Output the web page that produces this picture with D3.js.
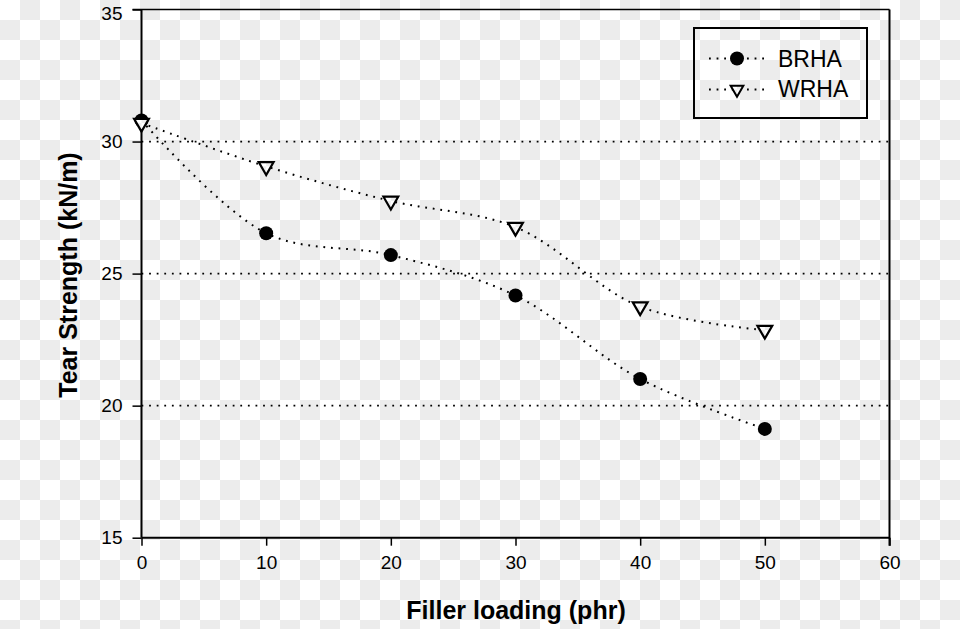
<!DOCTYPE html>
<html>
<head>
<meta charset="utf-8">
<script src="https://cdn.jsdelivr.net/npm/d3@7"></script>
<style>
  html, body { margin: 0; padding: 0; background: #fff; }
  svg { display: block; }
  text { font-family: "Liberation Sans", Arial, Helvetica, sans-serif; fill: #000; }
</style>
</head>
<body>
<svg id="chart" width="960" height="629"></svg>
<script>
// ---- data ----
const loading = [0, 10, 20, 30, 40, 50];
const brha = [30.8, 26.53, 25.70, 24.17, 21.01, 19.12];
const wrha = [30.7, 29.06, 27.75, 26.76, 23.75, 22.86];
const seriesNames = ["BRHA", "WRHA"];
const xTicks = [0, 10, 20, 30, 40, 50, 60];
const yTicks = [15, 20, 25, 30, 35];
const gridValues = [20, 25, 30];

const svg = d3.select("#chart");
const W = 960, H = 629;

// checkerboard background (transparent-image look)
const defs = svg.append("defs");
const pat = defs.append("pattern").attr("id", "checker")
  .attr("patternUnits", "userSpaceOnUse").attr("width", 40).attr("height", 40);
pat.append("rect").attr("width", 40).attr("height", 40).attr("fill", "#ffffff");
pat.append("rect").attr("x", 20).attr("y", 0).attr("width", 20).attr("height", 20).attr("fill", "#ececec");
pat.append("rect").attr("x", 0).attr("y", 20).attr("width", 20).attr("height", 20).attr("fill", "#ececec");
svg.append("rect").attr("width", W).attr("height", H).attr("fill", "url(#checker)");

const x = d3.scaleLinear().domain([0, 60]).range([141.5, 889.5]);
const y = d3.scaleLinear().domain([15, 35]).range([537.7, 9.5]);

// gridlines
svg.append("g").selectAll("line").data(gridValues).join("line")
  .attr("x1", x(0)).attr("x2", x(60))
  .attr("y1", d => y(d)).attr("y2", d => y(d))
  .attr("stroke", "#000").attr("stroke-width", 1.8)
  .attr("stroke-dasharray", "1.8 5.8");

// frame: top and right
svg.append("line").attr("x1", x(0) - 9).attr("x2", x(60)).attr("y1", y(35)).attr("y2", y(35))
  .attr("stroke", "#000").attr("stroke-width", 1.3);
svg.append("line").attr("x1", x(60)).attr("x2", x(60)).attr("y1", y(35)).attr("y2", y(15) + 8)
  .attr("stroke", "#000").attr("stroke-width", 2);

// axes
const xAxis = d3.axisBottom(x).tickValues(xTicks).tickSize(8).tickPadding(10).tickFormat(d3.format("d"));
const yAxis = d3.axisLeft(y).tickValues(yTicks).tickSize(9).tickPadding(10).tickFormat(d3.format("d"));

const gx = svg.append("g").attr("transform", `translate(0,${y(15)})`).call(xAxis);
const gy = svg.append("g").attr("transform", `translate(${x(0)},0)`).call(yAxis);
[gx, gy].forEach(g => {
  g.select(".domain").attr("stroke", "#000").attr("stroke-width", 2);
  g.selectAll(".tick line").attr("stroke", "#000").attr("stroke-width", 1.5);
  g.selectAll(".tick text").attr("font-size", 19).attr("fill", "#000")
    .attr("font-family", "'Liberation Sans', Arial, sans-serif");
});
gy.selectAll(".tick text").filter(d => d === 35).attr("dy", "0.5em");
gx.select(".domain").attr("d", `M${x(0)},0H${x(60)}`);
gy.select(".domain").attr("d", `M0,${y(15)}V${y(35)}`);

// axis titles
svg.append("text").attr("x", 516).attr("y", 619).attr("text-anchor", "middle")
  .attr("font-size", 25).attr("font-weight", "bold").text("Filler loading (phr)");
svg.append("text").attr("transform", "translate(77,275) rotate(-90)").attr("text-anchor", "middle")
  .attr("font-size", 25).attr("font-weight", "bold").text("Tear Strength (kN/m)");

// series lines
const line = d3.line().x(d => x(d[0])).y(d => y(d[1])).curve(d3.curveCatmullRom.alpha(0.5));
const series = [brha, wrha].map(vals => loading.map((l, i) => [l, vals[i]]));
svg.append("g").selectAll("path").data(series).join("path")
  .attr("d", line).attr("fill", "none").attr("stroke", "#000")
  .attr("stroke-width", 2).attr("stroke-dasharray", "1.8 5.8");

// markers
const circleSym = d3.symbol().type(d3.symbolCircle).size(Math.PI * 7 * 7);
const triSym = d3.symbol().type(d3.symbolTriangle).size(95);

svg.append("g").selectAll("path").data(series[0]).join("path")
  .attr("transform", d => `translate(${x(d[0])},${y(d[1])})`)
  .attr("d", circleSym).attr("fill", "#000");
svg.append("g").selectAll("path").data(series[1]).join("path")
  .attr("transform", d => `translate(${x(d[0])},${y(d[1])}) rotate(180)`)
  .attr("d", triSym).attr("fill", "url(#checker)").attr("stroke", "#000").attr("stroke-width", 2.2);

// legend
const lg = svg.append("g");
lg.append("rect").attr("x", 694).attr("y", 28).attr("width", 173).attr("height", 90)
  .attr("fill", "url(#checker)").attr("stroke", "#000").attr("stroke-width", 2);
const rows = [{ name: seriesNames[0], cy: 58.5, base: 66.5 }, { name: seriesNames[1], cy: 89.5, base: 96.5 }];
rows.forEach((r, i) => {
  lg.append("line").attr("x1", 709).attr("x2", 765).attr("y1", r.cy).attr("y2", r.cy)
    .attr("stroke", "#000").attr("stroke-width", 2).attr("stroke-dasharray", "1.8 5.8");
  if (i === 0) {
    lg.append("path").attr("transform", `translate(737,${r.cy})`).attr("d", circleSym).attr("fill", "#000");
  } else {
    lg.append("path").attr("transform", `translate(737,${r.cy}) rotate(180)`)
      .attr("d", d3.symbol().type(d3.symbolTriangle).size(70))
      .attr("fill", "url(#checker)").attr("stroke", "#000").attr("stroke-width", 2);
  }
  lg.append("text").attr("x", 778).attr("y", r.base).attr("font-size", 23).text(r.name);
});
</script>
</body>
</html>
